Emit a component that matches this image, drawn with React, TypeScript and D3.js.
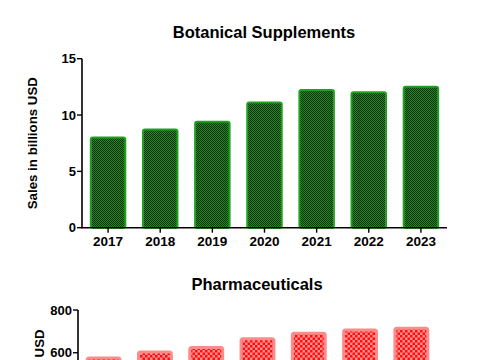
import React from "react";
import * as d3 from "d3";

const years = ["2017", "2018", "2019", "2020", "2021", "2022", "2023"];
const botanicalSales = [8.1, 8.8, 9.5, 11.2, 12.3, 12.1, 12.6];
const pharmaSales = [583, 610, 632, 672, 698, 713, 722];
const botanicalTicks = [0, 5, 10, 15];
const pharmaTicks = [0, 200, 400, 600, 800];

const FONT = "Liberation Sans, Arial, Helvetica, sans-serif";

type PanelProps = {
  title: string;
  titleX: number;
  titleY: number;
  values: number[];
  ticks: number[];
  domainMax: number;
  x0: number;
  x1: number;
  yTop: number;
  yBottom: number;
  labelX: number;
  fill: string;
  stroke: string;
  strokeWidth: number;
};

function Panel(p: PanelProps) {
  const x = d3.scaleBand<string>().domain(years).range([p.x0, p.x1]).paddingInner(0.3).paddingOuter(0.15);
  const y = d3.scaleLinear().domain([0, p.domainMax]).range([p.yBottom, p.yTop]);
  const sw = p.strokeWidth;
  return (
    <g>
      <text x={p.titleX} y={p.titleY} textAnchor="middle" fontFamily={FONT} fontWeight="bold" fontSize={16.5} fill="#000">
        {p.title}
      </text>
      {years.map((yr, i) => (
        <rect
          key={yr}
          x={(x(yr) as number) + sw / 2}
          y={y(p.values[i]) + sw / 2}
          width={x.bandwidth() - sw}
          height={y(0) - y(p.values[i]) - sw / 2}
          rx={2}
          fill={p.fill}
          stroke={p.stroke}
          strokeWidth={sw}
        />
      ))}
      <line x1={p.x0} x2={p.x0} y1={p.yTop} y2={p.yBottom} stroke="#000" strokeWidth={1.6} />
      <line x1={p.x0 - 0.8} x2={p.x1} y1={p.yBottom} y2={p.yBottom} stroke="#000" strokeWidth={1.6} />
      {p.ticks.map((t) => (
        <g key={t}>
          <line x1={p.x0 - 5} x2={p.x0} y1={y(t)} y2={y(t)} stroke="#000" strokeWidth={1.4} />
          <text x={p.x0 - 6} y={y(t)} dy="0.36em" textAnchor="end" fontFamily={FONT} fontWeight="bold" fontSize={13} fill="#000">
            {t}
          </text>
        </g>
      ))}
      {years.map((yr) => {
        const cx = (x(yr) as number) + x.bandwidth() / 2;
        return (
          <g key={yr}>
            <line x1={cx} x2={cx} y1={p.yBottom} y2={p.yBottom + 5} stroke="#000" strokeWidth={1.4} />
            <text x={cx} y={p.yBottom + 18} textAnchor="middle" fontFamily={FONT} fontWeight="bold" fontSize={13.5} fill="#000">
              {yr}
            </text>
          </g>
        );
      })}
      <text
        transform={`translate(${p.labelX},${(p.yTop + p.yBottom) / 2}) rotate(-90)`}
        textAnchor="middle"
        dy="0.36em"
        fontFamily={FONT}
        fontWeight="bold"
        fontSize={13.3}
        fill="#000"
      >
        Sales in billions USD
      </text>
    </g>
  );
}

export default function App() {
  return (
    <svg width={485} height={360} style={{ position: "absolute", left: 0, top: 0, background: "#fff" }}>
      <defs>
        <pattern id="greenCheck" width={2} height={2} patternUnits="userSpaceOnUse">
          <rect width={2} height={2} fill="#1a8c1a" />
          <rect width={1} height={1} fill="#053005" />
          <rect x={1} y={1} width={1} height={1} fill="#053005" />
        </pattern>
        <pattern id="redCheck" width={5} height={5} patternUnits="userSpaceOnUse">
          <rect width={5} height={5} fill="#ff9090" />
          <rect width={2.5} height={2.5} fill="#ff0d0d" />
          <rect x={2.5} y={2.5} width={2.5} height={2.5} fill="#ff0d0d" />
        </pattern>
      </defs>
      <rect width={485} height={360} fill="#fff" />
      <Panel
        title="Botanical Supplements"
        titleX={264}
        titleY={38}
        values={botanicalSales}
        ticks={botanicalTicks}
        domainMax={15}
        x0={82}
        x1={447}
        yTop={58.7}
        yBottom={227.7}
        labelX={32}
        fill="url(#greenCheck)"
        stroke="#22a022"
        strokeWidth={2}
      />
      <Panel
        title="Pharmaceuticals"
        titleX={257}
        titleY={290}
        values={pharmaSales}
        ticks={pharmaTicks}
        domainMax={800}
        x0={78}
        x1={437}
        yTop={310}
        yBottom={481}
        labelX={39}
        fill="url(#redCheck)"
        stroke="#ff8a8a"
        strokeWidth={3}
      />
    </svg>
  );
}
